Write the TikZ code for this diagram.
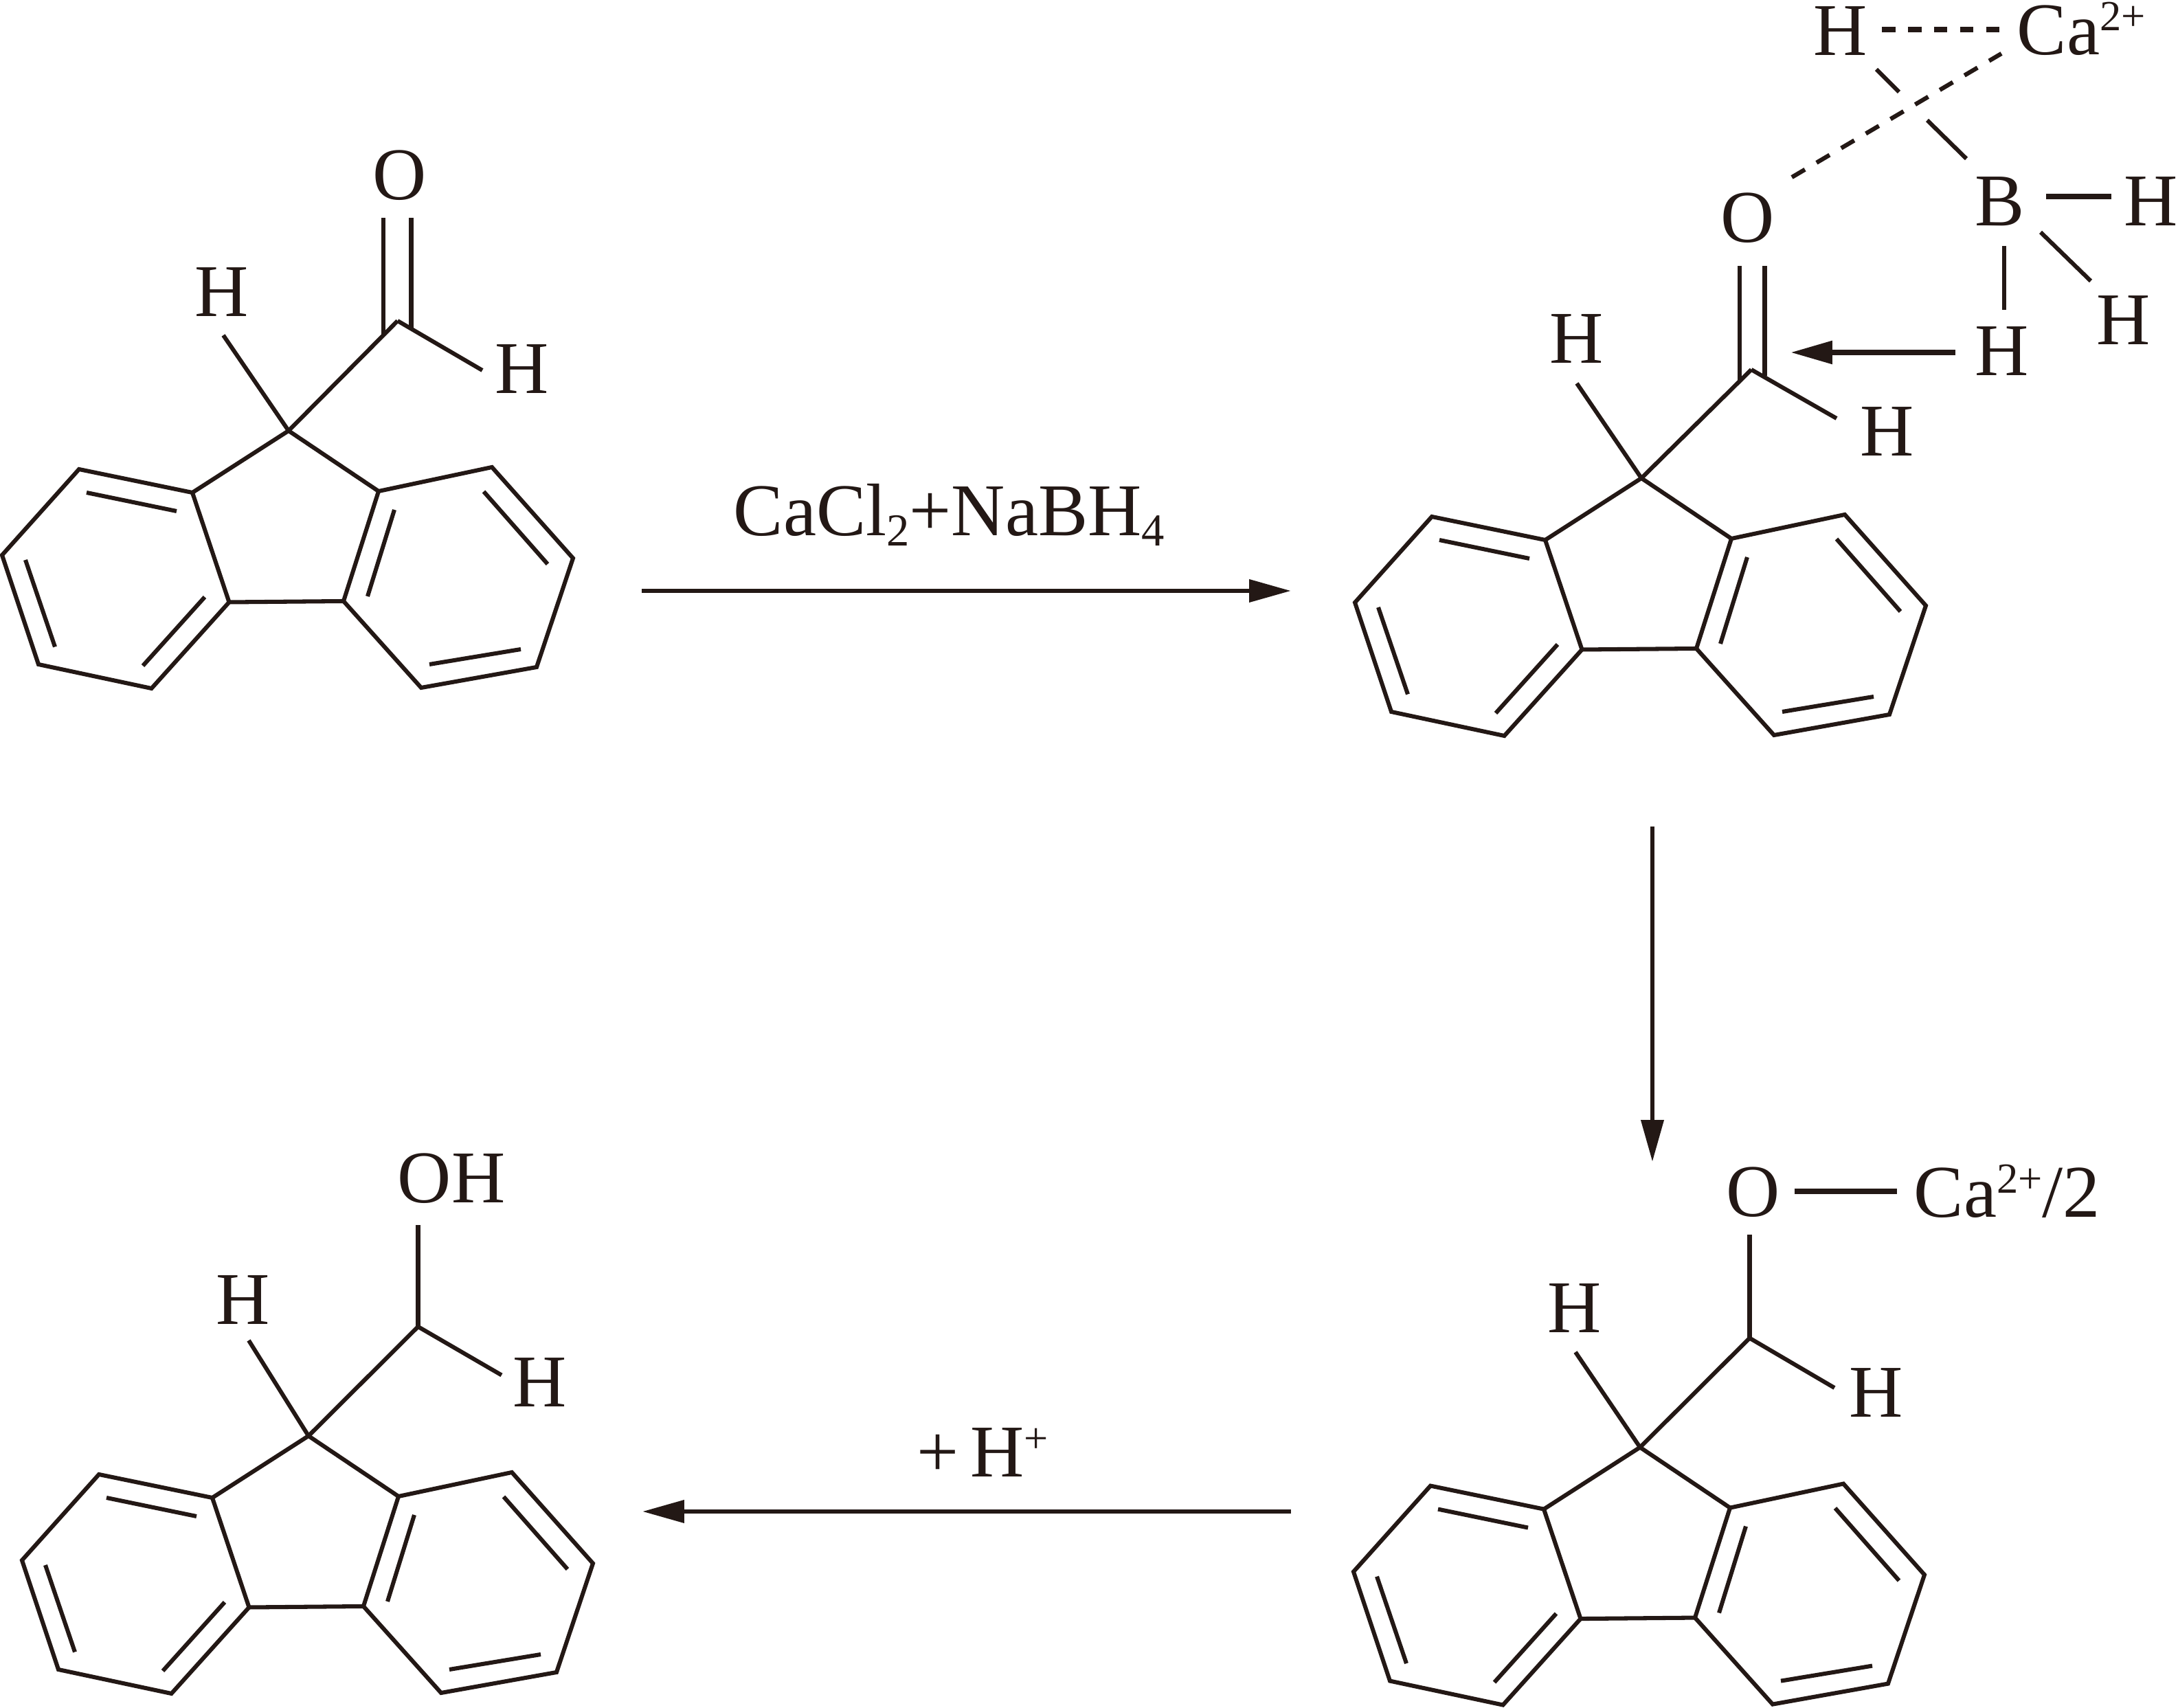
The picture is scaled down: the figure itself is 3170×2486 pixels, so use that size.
\documentclass[tikz,border=0pt]{standalone}
\usepackage{fontspec}
\setmainfont{Liberation Serif}
\usetikzlibrary{arrows.meta}

\definecolor{ink}{HTML}{231815}

\newcommand{\chemup}[1]{\raisebox{8.4pt}{\fontsize{15}{15}\selectfont #1}}
\newcommand{\chemdn}[1]{\raisebox{-3.6pt}{\fontsize{16}{16}\selectfont #1}}

\tikzset{
  atom/.style={inner sep=0pt, text=ink, font=\fontsize{26}{30}\selectfont},
  bond/.style={draw=ink, line width=1.45pt},
  heavybond/.style={draw=ink, line width=1.8pt},
  hbond/.style={draw=ink, line width=1.7pt, dash pattern=on 4.7pt off 4.4pt},
  obond/.style={draw=ink, line width=1.5pt, dash pattern=on 5.3pt off 4.7pt},
  rxn/.style={draw=ink, fill=ink, line width=1.6pt,
    -{Triangle[length=14.6pt, width=7.7pt]}},
  fluorene/.pic={
    \coordinate (-c9) at (0,0);
    \coordinate (-a) at (-140,90);
    \coordinate (-b) at (131,88);
    \coordinate (-c) at (-86.5,249.5);
    \coordinate (-d) at (80,248);
    \coordinate (-l1) at (-305,56);
    \coordinate (-l2) at (-417,181);
    \coordinate (-l3) at (-364,340);
    \coordinate (-l4) at (-199.5,375);
    \coordinate (-r1) at (296,53);
    \coordinate (-r2) at (414,185.5);
    \coordinate (-r3) at (361,344);
    \coordinate (-r4) at (193,374);
    % rings
    \draw[bond] (-a) -- (-c9) -- (-b) -- (-d) -- (-c) -- cycle;
    \draw[bond] (-a) -- (-l1) -- (-l2) -- (-l3) -- (-l4) -- (-c);
    \draw[bond] (-b) -- (-r1) -- (-r2) -- (-r3) -- (-r4) -- (-d);
    % inner double bonds
    \draw[bond] (-294,90) -- (-163,117);
    \draw[bond] (-383,188) -- (-340,314.5);
    \draw[bond] (-212,342) -- (-122,242);
    \draw[bond] (154,115) -- (115,241);
    \draw[bond] (284,88.5) -- (377,194);
    \draw[bond] (205,340) -- (338,318);
  }
}

\begin{document}
\begin{tikzpicture}[x=0.24pt, y=-0.24pt]

  \useasboundingbox (0,0) rectangle (3170,2486);

  % aldehyde
  \pic (ma) at (420,627) {fluorene};
  \node[atom] (maO) at (581.5,255) {O};
  \node[atom] (maH) at (322.5,425) {H};
  \node[atom] (maHr) at (760,537) {H};
  \coordinate (maC) at (578.7,467);
  \coordinate (maHe) at (325,488);
  \coordinate (maHre) at (702,539);
  \draw[bond] (ma-c9) -- (maC);
  \draw[bond] (ma-c9) -- (maHe);
  \draw[bond] (maC) -- (maHre);
  \draw[bond] (558,487) -- (558,317);
  \draw[bond] (598.5,478) -- (598.5,317);

  % borohydride complex
  \pic (mb) at (2389,696) {fluorene};
  \node[atom] (mbO) at (2544,317) {O};
  \node[atom] (mbH) at (2295,493) {H};
  \node[atom] (mbHr) at (2747,628) {H};
  \coordinate (mbC) at (2549,538);
  \coordinate (mbHe) at (2295,558);
  \coordinate (mbHre) at (2673,609);
  \draw[bond] (mb-c9) -- (mbC);
  \draw[bond] (mb-c9) -- (mbHe);
  \draw[bond] (mbC) -- (mbHre);
  \draw[bond] (2532,556) -- (2532,387);
  \draw[bond] (2568.5,547) -- (2568.5,387);

  \node[atom] (hTop) at (2679,45) {H};
  \node[atom, anchor=base west] (caTop) at (2935,80) {Ca\chemup{2+}};
  \node[atom] (boron) at (2911,293) {B};
  \node[atom] (hRight) at (3131,293) {H};
  \node[atom] (hDiag) at (3091,466) {H};
  \node[atom] (hDown) at (2914,511) {H};

  \coordinate (hcaA) at (2739,43);
  \coordinate (hcaB) at (2910,43);
  \coordinate (ocaA) at (2608,258);
  \coordinate (ocaB) at (2913,78);
  \draw[hbond] (hcaA) -- (hcaB);
  \draw[obond] (ocaA) -- (ocaB);

  \draw[bond] (2731,101) -- (2764,134);
  \draw[bond] (2805,175) -- (2862,231);
  \draw[heavybond] (2978,286) -- (3073,286);
  \draw[bond] (2970,338) -- (3043,409);
  \draw[bond] (2917,358) -- (2917,451);

  \coordinate (attackA) at (2846,513);
  \coordinate (attackB) at (2606,513);
  \draw[rxn, line width=2pt] (attackA) -- (attackB);

  % alkoxide
  \pic (mc) at (2387,2106.6) {fluorene};
  \node[atom] (mcO) at (2551.5,1735) {O};
  \node[atom, anchor=base west] (caLow) at (2785,1772) {Ca\chemup{2+}/2};
  \node[atom] (mcH) at (2291.6,1904) {H};
  \node[atom] (mcHr) at (2731,2027) {H};
  \coordinate (mcC) at (2546.5,1947.6);
  \coordinate (mcHe) at (2293,1968);
  \coordinate (mcHre) at (2670,2020);
  \coordinate (mcOe) at (2546.5,1797);
  \draw[bond] (mc-c9) -- (mcC);
  \draw[bond] (mc-c9) -- (mcHe);
  \draw[bond] (mcC) -- (mcHre);
  \draw[bond] (mcC) -- (mcOe);
  \draw[heavybond] (2611.5,1734) -- (2761,1734);

  % alcohol
  \pic (md) at (449,2090) {fluorene};
  \node[atom, anchor=base west] (mdO) at (578,1751) {OH};
  \node[atom] (mdH) at (354,1892) {H};
  \node[atom] (mdHr) at (786,2012) {H};
  \coordinate (mdC) at (608.5,1931);
  \coordinate (mdHe) at (362,1951);
  \coordinate (mdHre) at (730,2001.5);
  \coordinate (mdOe) at (608.5,1783);
  \draw[bond] (md-c9) -- (mdC);
  \draw[bond] (md-c9) -- (mdHe);
  \draw[bond] (mdC) -- (mdHre);
  \draw[bond] (mdC) -- (mdOe);

  % reaction arrows
  \node[atom, anchor=base west] (rxnTop) at (1067,780)
    {CaCl\chemdn{2}+NaBH\chemdn{4}};
  \node[atom, anchor=base west] (rxnLow) at (1334,2150)
    {+\hspace{4pt}H\chemup{+}};

  \coordinate (stepAs) at (934,860);
  \coordinate (stepAe) at (1879,860);
  \coordinate (stepBs) at (2405,1203);
  \coordinate (stepBe) at (2405,1691);
  \coordinate (stepCs) at (1879,2200);
  \coordinate (stepCe) at (935,2200);
  \draw[rxn] (stepAs) -- (stepAe);
  \draw[rxn] (stepBs) -- (stepBe);
  \draw[rxn] (stepCs) -- (stepCe);

\end{tikzpicture}
\end{document}
